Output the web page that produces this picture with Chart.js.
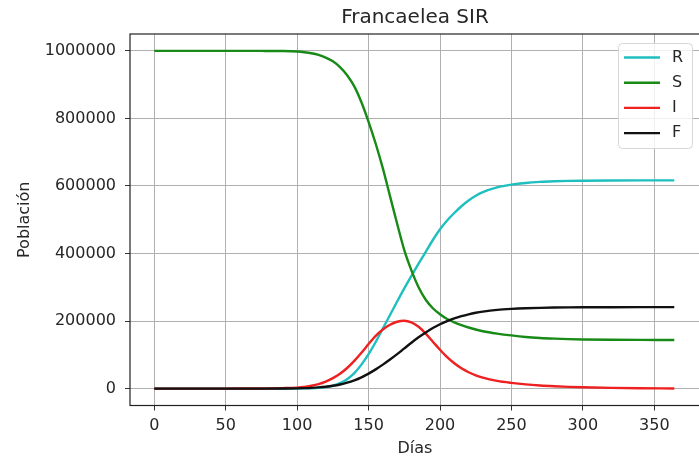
<!DOCTYPE html>
<html>
<head>
<meta charset="utf-8">
<script src="https://cdn.jsdelivr.net/npm/chart.js@4.4.0/dist/chart.umd.min.js"></script>
<style>
  html, body { margin: 0; padding: 0; background: #fff; overflow: hidden; }
</style>
</head>
<body>
<canvas id="sir-chart" width="702" height="458"></canvas>
<script>
// days of the simulation (sampled denser where the curves bend)
const days = [0, 25, 50, 75, 90, 100, 105, 110, 115, 120, 125, 130, 135, 140, 145, 150, 155, 160, 165, 170,
  175, 180, 185, 190, 195, 200, 205, 210, 215, 220, 225, 230, 240, 250, 260, 270, 280, 290, 300, 320, 340, 364];

// values in thousands of people
const recovered = [0, 0, 0, 0, 0.2, 0.5, 0.8, 1.2, 2.3, 4.5, 8.5, 16, 28, 46, 71, 102, 138, 178, 218, 258,
  297, 334, 370, 405, 440, 472, 498, 520, 540, 557, 571, 582, 596, 604, 609, 612, 613.8, 615, 615.6, 616.2, 616.5, 616.6];
const susceptible = [1000, 1000, 1000, 999.9, 999.5, 998, 996, 993, 988, 980, 969, 952, 928, 895, 848, 790, 725, 652, 570, 488,
  410, 350, 300, 263, 238, 220, 206, 196, 188, 181, 175, 170, 163, 157.5, 153, 150, 148, 146.5, 145.5, 144.6, 144.2, 144];
const infected = [0, 0, 0.1, 0.5, 1.5, 3, 5, 8.5, 13.5, 21, 31, 44, 61, 82, 106, 132, 156, 175, 189, 198,
  201, 196, 183, 163, 139, 115, 93, 75, 60, 48.5, 39.5, 32.5, 23, 17, 12.5, 9.3, 7, 5.2, 3.9, 2.1, 1.1, 0.5];
const fatalities = [0, 0, 0, 0, 0.3, 0.8, 1.4, 2.3, 3.7, 5.7, 8.5, 12.3, 17.5, 24.5, 33.5, 44.5, 57, 71, 86, 102,
  119, 136, 152, 166.5, 179.5, 190.5, 200, 208, 214.5, 220, 224.5, 228, 233, 236, 238, 239.2, 240, 240.5, 240.8, 241.1, 241.3, 241.4];

const xTicks = [0, 50, 100, 150, 200, 250, 300, 350];
const yTicks = [0, 200000, 400000, 600000, 800000, 1000000];

const FONT = 'DejaVu Sans';
const TEXT = '#262626';

function series(vals) {
  return vals.map((v, i) => ({ x: days[i], y: Math.round(v * 1000) }));
}

function line(label, vals, color, order) {
  return {
    label: label,
    data: series(vals),
    borderColor: color,
    backgroundColor: color,
    borderWidth: 2.4,
    pointRadius: 0,
    fill: false,
    cubicInterpolationMode: 'monotone',
    order: order
  };
}

// box round the plot, like the axes frame
const framePlugin = {
  id: 'frame',
  afterDatasetsDraw(chart) {
    const a = chart.chartArea, ctx = chart.ctx;
    ctx.save();
    ctx.strokeStyle = '#222';
    ctx.lineWidth = 1.2;
    ctx.strokeRect(a.left, a.top, a.right - a.left, a.bottom - a.top);
    ctx.restore();
  }
};

// legend in the upper right corner of the plot
const boxLegend = {
  id: 'boxLegend',
  afterDraw(chart) {
    const ctx = chart.ctx;
    const x = 618.5, y = 43.5, w = 74, h = 105, r = 4;
    ctx.save();
    ctx.beginPath();
    ctx.roundRect(x, y, w, h, r);
    ctx.fillStyle = 'rgba(255,255,255,0.8)';
    ctx.fill();
    ctx.strokeStyle = '#d6d6d6';
    ctx.lineWidth = 1;
    ctx.stroke();
    ctx.font = '16px "' + FONT + '"';
    ctx.textBaseline = 'middle';
    ctx.textAlign = 'left';
    chart.data.datasets.forEach((ds, i) => {
      const yy = 57.5 + i * 25.2;
      ctx.strokeStyle = ds.borderColor;
      ctx.lineWidth = 2.4;
      ctx.beginPath();
      ctx.moveTo(624, yy);
      ctx.lineTo(660, yy);
      ctx.stroke();
      ctx.fillStyle = TEXT;
      ctx.fillText(ds.label, 672, yy);
    });
    ctx.restore();
  }
};

const ctx = document.getElementById('sir-chart').getContext('2d');
new Chart(ctx, {
  type: 'line',
  data: {
    datasets: [
      line('R', recovered, '#1fbfbf', 4),
      line('S', susceptible, '#178a17', 3),
      line('I', infected, '#ee2020', 2),
      line('F', fatalities, '#111111', 1)
    ]
  },
  options: {
    responsive: false,
    animation: false,
    devicePixelRatio: 1,
    layout: { padding: { top: 0, left: 0, right: 2, bottom: 0 } },
    plugins: {
      legend: { display: false },
      tooltip: { enabled: false },
      title: {
        display: true,
        text: 'Francaelea SIR',
        fullSize: false,
        color: TEXT,
        font: { family: FONT, size: 20, weight: 'normal' },
        padding: { top: 6, bottom: 4 }
      }
    },
    scales: {
      x: {
        type: 'linear',
        min: -17,
        max: 382,
        afterBuildTicks: s => { s.ticks = xTicks.map(v => ({ value: v })); },
        afterFit: s => { s.height = 52.5; },
        border: { display: false },
        grid: { color: '#b0b0b0', lineWidth: 1, tickLength: 5, tickColor: '#333' },
        ticks: { font: { family: FONT, size: 16 }, color: TEXT, padding: 6, maxRotation: 0, autoSkip: false },
        title: { display: true, text: 'Días', color: TEXT, font: { family: FONT, size: 16 }, padding: { top: 0, bottom: 0 } }
      },
      y: {
        type: 'linear',
        min: -50000,
        max: 1050000,
        afterBuildTicks: s => { s.ticks = yTicks.map(v => ({ value: v })); },
        afterFit: s => { s.width = 130; },
        border: { display: false },
        grid: { color: '#b0b0b0', lineWidth: 1, tickLength: 5, tickColor: '#333' },
        ticks: { font: { family: FONT, size: 16 }, color: TEXT, padding: 9, callback: v => String(v) },
        title: { display: true, text: 'Población', color: TEXT, font: { family: FONT, size: 16 }, padding: { top: 15, bottom: 0 } }
      }
    }
  },
  plugins: [framePlugin, boxLegend]
});
</script>
</body>
</html>
